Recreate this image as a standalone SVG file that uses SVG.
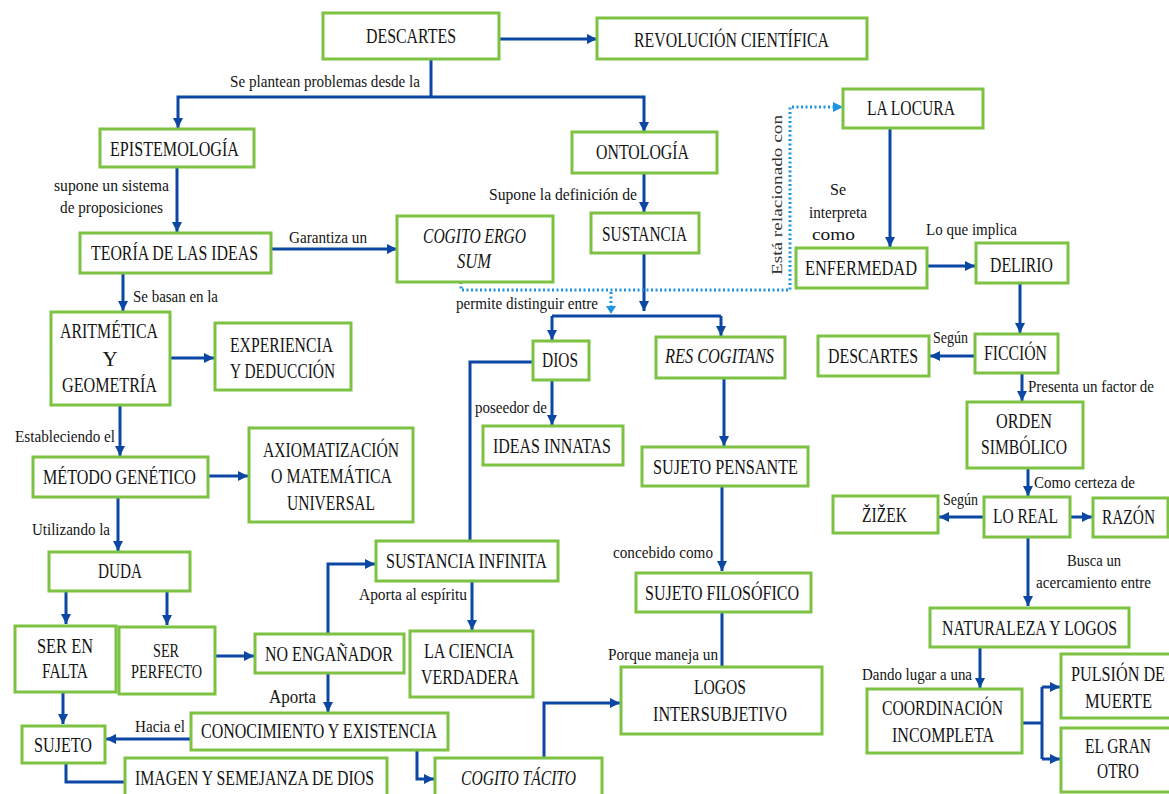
<svg xmlns="http://www.w3.org/2000/svg" width="1169" height="794" viewBox="0 0 1169 794">
  <defs>
    <style>
      .box { fill: #ffffff; stroke: #7cc243; stroke-width: 3; }
      .t { font-family: "Liberation Serif", "Times New Roman", serif; font-size: 21px; fill: #141414; }
      .sm { font-size: 18px; }
      .it { font-style: italic; }
      .lbl { font-family: "Liberation Serif", "Times New Roman", serif; font-size: 16px; fill: #141414; }
      .rot { font-family: "Liberation Serif", "Times New Roman", serif; font-size: 15px; fill: #333333; }
      .ln { fill: none; stroke: #0b47a3; stroke-width: 3; }
      .arr { marker-end: url(#ah); }
      .dot { fill: none; stroke: #1e93e0; stroke-width: 3; stroke-dasharray: 2 2.5; }
    </style>
    <marker id="ah" viewBox="0 0 10 10" refX="10" refY="5" markerWidth="10" markerHeight="10" markerUnits="userSpaceOnUse" orient="auto">
      <path d="M0,0 L10,5 L0,10 z" fill="#0b47a3"/>
    </marker>
    <marker id="ahd" viewBox="0 0 10 10" refX="10" refY="5" markerWidth="9" markerHeight="9" markerUnits="userSpaceOnUse" orient="auto">
      <path d="M0,0 L10,5 L0,10 z" fill="#1e93e0"/>
    </marker>
  </defs>

  <rect width="1169" height="794" fill="#ffffff"/>

  <!-- connectors -->
  <g id="connectors">
    <path class="ln arr" d="M499,39 H597"/>
    <path class="ln" d="M431,59 V97"/>
    <path class="ln arr" d="M431,97 H178 V128"/>
    <path class="ln arr" d="M431,97 H644 V132"/>
    <path class="ln arr" d="M177,167 V232"/>
    <path class="ln arr" d="M271,249 H397"/>
    <path class="ln arr" d="M644,173 V212"/>
    <path class="ln arr" d="M644,253 V311"/>
    <path class="ln" d="M552,316 H721"/>
    <path class="ln arr" d="M552,316 V340"/>
    <path class="ln arr" d="M721,316 V336"/>
    <path class="dot" d="M461,282 V290 H790 V107 H835"/>
    <path d="M833,102 L843,107 L833,112 z" fill="#1e93e0"/>
    <path class="dot" d="M611,292 V306"/>
    <path d="M606,306 L611,314 L616,306 z" fill="#1e93e0"/>
    <path class="ln" d="M533,362 H470 V541"/>
    <path class="ln arr" d="M552,380 V425"/>
    <path class="ln arr" d="M724,378 V446"/>
    <path class="ln arr" d="M722,486 V571"/>
    <path class="ln" d="M722,612 V667"/>
    <path class="ln arr" d="M544,758 V703 H620"/>
    <path class="ln arr" d="M472,581 V630"/>
    <path class="ln arr" d="M328,634 V564 H375"/>
    <path class="ln arr" d="M328,673 V712"/>
    <path class="ln arr" d="M191,739 H106"/>
    <path class="ln arr" d="M417,750 V779 H434"/>
    <path class="ln arr" d="M66,591 V624"/>
    <path class="ln arr" d="M167,591 V625"/>
    <path class="ln arr" d="M215,656 H254"/>
    <path class="ln arr" d="M63,692 V724"/>
    <path class="ln" d="M66,763 V782 H125"/>
    <path class="ln arr" d="M123,273 V311"/>
    <path class="ln arr" d="M170,358 H214"/>
    <path class="ln arr" d="M120,405 V456"/>
    <path class="ln arr" d="M208,476 H248"/>
    <path class="ln arr" d="M118,497 V551"/>
    <path class="ln arr" d="M890,128 V247"/>
    <path class="ln arr" d="M927,266 H975"/>
    <path class="ln arr" d="M1020,283 V333"/>
    <path class="ln arr" d="M975,356 H930"/>
    <path class="ln arr" d="M1022,373 V401"/>
    <path class="ln arr" d="M1028,468 V496"/>
    <path class="ln arr" d="M984,517 H939"/>
    <path class="ln arr" d="M1070,517 H1092"/>
    <path class="ln arr" d="M1028,537 V606"/>
    <path class="ln arr" d="M980,647 V688"/>
    <path class="ln" d="M1022,723 H1042"/>
    <path class="ln" d="M1042,687 V759"/>
    <path class="ln arr" d="M1042,687 H1060"/>
    <path class="ln arr" d="M1042,759 H1060"/>
  </g>

  <!-- connector labels -->
  <g id="labels">
    <text class="lbl" x="230" y="87" textLength="190" lengthAdjust="spacingAndGlyphs">Se plantean problemas desde la</text>
    <text class="lbl" x="54" y="191" textLength="115" lengthAdjust="spacingAndGlyphs">supone  un sistema</text>
    <text class="lbl" x="60" y="213" textLength="103" lengthAdjust="spacingAndGlyphs">de proposiciones</text>
    <text class="lbl" x="289" y="243" textLength="78" lengthAdjust="spacingAndGlyphs">Garantiza un</text>
    <text class="lbl" x="133" y="302" textLength="85" lengthAdjust="spacingAndGlyphs">Se basan en la</text>
    <text class="lbl" x="15" y="442" textLength="100" lengthAdjust="spacingAndGlyphs">Estableciendo el</text>
    <text class="lbl" x="32" y="535" textLength="78" lengthAdjust="spacingAndGlyphs">Utilizando la</text>
    <text class="lbl" x="489" y="200" textLength="148" lengthAdjust="spacingAndGlyphs">Supone  la definición de</text>
    <text class="lbl" x="456" y="309" textLength="142" lengthAdjust="spacingAndGlyphs">permite distinguir entre</text>
    <text class="lbl" x="475" y="413" textLength="72" lengthAdjust="spacingAndGlyphs">poseedor de</text>
    <text class="lbl" x="613" y="558" textLength="100" lengthAdjust="spacingAndGlyphs">concebido como</text>
    <text class="lbl" x="608" y="660" textLength="110" lengthAdjust="spacingAndGlyphs">Porque maneja  un</text>
    <text class="lbl" x="359" y="600" textLength="108" lengthAdjust="spacingAndGlyphs">Aporta al espíritu</text>
    <text class="lbl" x="269" y="703" textLength="47" lengthAdjust="spacingAndGlyphs" style="font-size:18px">Aporta</text>
    <text class="lbl" x="135" y="732" textLength="50" lengthAdjust="spacingAndGlyphs">Hacia el</text>
    <text class="rot" transform="translate(782,275) rotate(-90)" x="0" y="0" textLength="160" lengthAdjust="spacingAndGlyphs">Está relacionado con</text>
    <text class="lbl" x="838" y="195" text-anchor="middle">Se</text>
    <text class="lbl" x="809" y="218" textLength="58" lengthAdjust="spacingAndGlyphs">interpreta</text>
    <text class="lbl" x="812" y="240" textLength="43" lengthAdjust="spacingAndGlyphs">como</text>
    <text class="lbl" x="926" y="235" textLength="91" lengthAdjust="spacingAndGlyphs">Lo que implica</text>
    <text class="lbl" x="933" y="343" textLength="35" lengthAdjust="spacingAndGlyphs">Según</text>
    <text class="lbl" x="1028" y="392" textLength="126" lengthAdjust="spacingAndGlyphs">Presenta un factor de</text>
    <text class="lbl" x="1034" y="488" textLength="101" lengthAdjust="spacingAndGlyphs">Como certeza de</text>
    <text class="lbl" x="943" y="505" textLength="35" lengthAdjust="spacingAndGlyphs">Según</text>
    <text class="lbl" x="1067" y="566" textLength="54" lengthAdjust="spacingAndGlyphs">Busca un</text>
    <text class="lbl" x="1036" y="588" textLength="115" lengthAdjust="spacingAndGlyphs">acercamiento entre</text>
    <text class="lbl" x="862" y="680" textLength="110" lengthAdjust="spacingAndGlyphs">Dando lugar a una</text>
  </g>

  <!-- nodes -->
  <g id="n-descartes"><rect class="box" x="323" y="13" width="176" height="46"/>
    <text class="t" x="366" y="43" textLength="90" lengthAdjust="spacingAndGlyphs">DESCARTES</text></g>
  <g id="n-revolucion"><rect class="box" x="597" y="18" width="270" height="41"/>
    <text class="t" x="634" y="47" textLength="195" lengthAdjust="spacingAndGlyphs">REVOLUCIÓN CIENTÍFICA</text></g>
  <g id="n-epistemologia"><rect class="box" x="100" y="129" width="154" height="38"/>
    <text class="t" x="110" y="156" textLength="129" lengthAdjust="spacingAndGlyphs">EPISTEMOLOGÍA</text></g>
  <g id="n-ontologia"><rect class="box" x="572" y="132" width="145" height="41"/>
    <text class="t" x="596" y="159" textLength="93" lengthAdjust="spacingAndGlyphs">ONTOLOGÍA</text></g>
  <g id="n-teoria"><rect class="box" x="80" y="233" width="191" height="40"/>
    <text class="t" x="91" y="260" textLength="167" lengthAdjust="spacingAndGlyphs">TEORÍA DE LAS IDEAS</text></g>
  <g id="n-cogito-ergo-sum"><rect class="box" x="397" y="216" width="156" height="66"/>
    <text class="t it" x="423" y="243" textLength="103" lengthAdjust="spacingAndGlyphs">COGITO ERGO</text>
    <text class="t it" x="457" y="268" textLength="34" lengthAdjust="spacingAndGlyphs">SUM</text></g>
  <g id="n-sustancia"><rect class="box" x="591" y="213" width="108" height="40"/>
    <text class="t" x="602" y="241" textLength="85" lengthAdjust="spacingAndGlyphs">SUSTANCIA</text></g>
  <g id="n-locura"><rect class="box" x="843" y="89" width="140" height="39"/>
    <text class="t" x="867" y="115" textLength="88" lengthAdjust="spacingAndGlyphs">LA LOCURA</text></g>
  <g id="n-enfermedad"><rect class="box" x="796" y="248" width="131" height="40"/>
    <text class="t" x="805" y="275" textLength="112" lengthAdjust="spacingAndGlyphs">ENFERMEDAD</text></g>
  <g id="n-delirio"><rect class="box" x="976" y="243" width="92" height="40"/>
    <text class="t" x="990" y="272" textLength="63" lengthAdjust="spacingAndGlyphs">DELIRIO</text></g>
  <g id="n-ficcion"><rect class="box" x="975" y="334" width="83" height="39"/>
    <text class="t" x="984" y="360" textLength="63" lengthAdjust="spacingAndGlyphs">FICCIÓN</text></g>
  <g id="n-descartes-2"><rect class="box" x="818" y="336" width="111" height="40"/>
    <text class="t" x="828" y="363" textLength="90" lengthAdjust="spacingAndGlyphs">DESCARTES</text></g>
  <g id="n-aritmetica"><rect class="box" x="51" y="312" width="119" height="93"/>
    <text class="t" x="60" y="338" textLength="98" lengthAdjust="spacingAndGlyphs">ARITMÉTICA</text>
    <text class="t" x="110" y="366" text-anchor="middle">Y</text>
    <text class="t" x="62" y="392" textLength="95" lengthAdjust="spacingAndGlyphs">GEOMETRÍA</text></g>
  <g id="n-experiencia"><rect class="box" x="215" y="323" width="136" height="67"/>
    <text class="t" x="230" y="352" textLength="103" lengthAdjust="spacingAndGlyphs">EXPERIENCIA</text>
    <text class="t" x="230" y="378" textLength="105" lengthAdjust="spacingAndGlyphs">Y DEDUCCIÓN</text></g>
  <g id="n-metodo"><rect class="box" x="33" y="457" width="175" height="40"/>
    <text class="t" x="43" y="484" textLength="153" lengthAdjust="spacingAndGlyphs">MÉTODO GENÉTICO</text></g>
  <g id="n-axiomatizacion"><rect class="box" x="249" y="428" width="164" height="94"/>
    <text class="t" x="263" y="457" textLength="136" lengthAdjust="spacingAndGlyphs">AXIOMATIZACIÓN</text>
    <text class="t" x="271" y="483" textLength="121" lengthAdjust="spacingAndGlyphs">O MATEMÁTICA</text>
    <text class="t" x="287" y="510" textLength="88" lengthAdjust="spacingAndGlyphs">UNIVERSAL</text></g>
  <g id="n-dios"><rect class="box" x="533" y="341" width="56" height="39"/>
    <text class="t" x="542" y="367" textLength="36" lengthAdjust="spacingAndGlyphs">DIOS</text></g>
  <g id="n-res-cogitans"><rect class="box" x="656" y="337" width="129" height="41"/>
    <text class="t it" x="665" y="363" textLength="109" lengthAdjust="spacingAndGlyphs">RES COGITANS</text></g>
  <g id="n-ideas-innatas"><rect class="box" x="483" y="426" width="140" height="39"/>
    <text class="t" x="493" y="453" textLength="118" lengthAdjust="spacingAndGlyphs">IDEAS INNATAS</text></g>
  <g id="n-sujeto-pensante"><rect class="box" x="642" y="447" width="166" height="39"/>
    <text class="t" x="653" y="474" textLength="145" lengthAdjust="spacingAndGlyphs">SUJETO PENSANTE</text></g>
  <g id="n-sustancia-infinita"><rect class="box" x="376" y="541" width="182" height="40"/>
    <text class="t" x="386" y="568" textLength="161" lengthAdjust="spacingAndGlyphs">SUSTANCIA INFINITA</text></g>
  <g id="n-ciencia"><rect class="box" x="410" y="631" width="123" height="66"/>
    <text class="t" x="424" y="658" textLength="90" lengthAdjust="spacingAndGlyphs">LA CIENCIA</text>
    <text class="t" x="421" y="684" textLength="98" lengthAdjust="spacingAndGlyphs">VERDADERA</text></g>
  <g id="n-sujeto-filosofico"><rect class="box" x="636" y="573" width="175" height="39"/>
    <text class="t" x="645" y="600" textLength="154" lengthAdjust="spacingAndGlyphs">SUJETO FILOSÓFICO</text></g>
  <g id="n-logos"><rect class="box" x="621" y="667" width="201" height="67"/>
    <text class="t" x="694" y="694" textLength="52" lengthAdjust="spacingAndGlyphs">LOGOS</text>
    <text class="t" x="653" y="721" textLength="134" lengthAdjust="spacingAndGlyphs">INTERSUBJETIVO</text></g>
  <g id="n-duda"><rect class="box" x="49" y="552" width="141" height="39"/>
    <text class="t" x="98" y="578" textLength="44" lengthAdjust="spacingAndGlyphs">DUDA</text></g>
  <g id="n-ser-en-falta"><rect class="box" x="15" y="626" width="101" height="66"/>
    <text class="t" x="37" y="653" textLength="56" lengthAdjust="spacingAndGlyphs">SER EN</text>
    <text class="t" x="42" y="678" textLength="46" lengthAdjust="spacingAndGlyphs">FALTA</text></g>
  <g id="n-ser-perfecto"><rect class="box" x="119" y="627" width="96" height="67"/>
    <text class="t sm" x="153" y="657" textLength="26" lengthAdjust="spacingAndGlyphs">SER</text>
    <text class="t sm" x="131" y="678" textLength="71" lengthAdjust="spacingAndGlyphs">PERFECTO</text></g>
  <g id="n-no-enganador"><rect class="box" x="255" y="634" width="149" height="39"/>
    <text class="t" x="265" y="661" textLength="128" lengthAdjust="spacingAndGlyphs">NO ENGAÑADOR</text></g>
  <g id="n-conocimiento"><rect class="box" x="191" y="713" width="257" height="37"/>
    <text class="t" x="201" y="738" textLength="236" lengthAdjust="spacingAndGlyphs">CONOCIMIENTO Y EXISTENCIA</text></g>
  <g id="n-sujeto"><rect class="box" x="22" y="726" width="83" height="37"/>
    <text class="t" x="34" y="752" textLength="58" lengthAdjust="spacingAndGlyphs">SUJETO</text></g>
  <g id="n-imagen"><rect class="box" x="125" y="758" width="262" height="50"/>
    <text class="t" x="135" y="785" textLength="239" lengthAdjust="spacingAndGlyphs">IMAGEN Y SEMEJANZA DE DIOS</text></g>
  <g id="n-cogito-tacito"><rect class="box" x="435" y="758" width="167" height="50"/>
    <text class="t it" x="461" y="785" textLength="115" lengthAdjust="spacingAndGlyphs">COGITO TÁCITO</text></g>
  <g id="n-orden"><rect class="box" x="967" y="402" width="116" height="66"/>
    <text class="t" x="996" y="428" textLength="56" lengthAdjust="spacingAndGlyphs">ORDEN</text>
    <text class="t" x="981" y="454" textLength="86" lengthAdjust="spacingAndGlyphs">SIMBÓLICO</text></g>
  <g id="n-zizek"><rect class="box" x="833" y="496" width="105" height="37"/>
    <text class="t" x="862" y="522" textLength="45" lengthAdjust="spacingAndGlyphs">ŽIŽEK</text></g>
  <g id="n-lo-real"><rect class="box" x="984" y="497" width="86" height="40"/>
    <text class="t" x="993" y="523" textLength="65" lengthAdjust="spacingAndGlyphs">LO REAL</text></g>
  <g id="n-razon"><rect class="box" x="1093" y="498" width="75" height="39"/>
    <text class="t" x="1102" y="524" textLength="53" lengthAdjust="spacingAndGlyphs">RAZÓN</text></g>
  <g id="n-naturaleza"><rect class="box" x="930" y="608" width="199" height="39"/>
    <text class="t" x="942" y="635" textLength="175" lengthAdjust="spacingAndGlyphs">NATURALEZA Y LOGOS</text></g>
  <g id="n-coordinacion"><rect class="box" x="867" y="689" width="155" height="64"/>
    <text class="t" x="882" y="715" textLength="121" lengthAdjust="spacingAndGlyphs">COORDINACIÓN</text>
    <text class="t" x="892" y="742" textLength="102" lengthAdjust="spacingAndGlyphs">INCOMPLETA</text></g>
  <g id="n-pulsion"><rect class="box" x="1061" y="654" width="112" height="64"/>
    <text class="t" x="1071" y="681" textLength="94" lengthAdjust="spacingAndGlyphs">PULSIÓN DE</text>
    <text class="t" x="1085" y="708" textLength="67" lengthAdjust="spacingAndGlyphs">MUERTE</text></g>
  <g id="n-gran-otro"><rect class="box" x="1061" y="728" width="112" height="64"/>
    <text class="t" x="1085" y="753" textLength="66" lengthAdjust="spacingAndGlyphs">EL GRAN</text>
    <text class="t" x="1097" y="778" textLength="42" lengthAdjust="spacingAndGlyphs">OTRO</text></g>
</svg>
